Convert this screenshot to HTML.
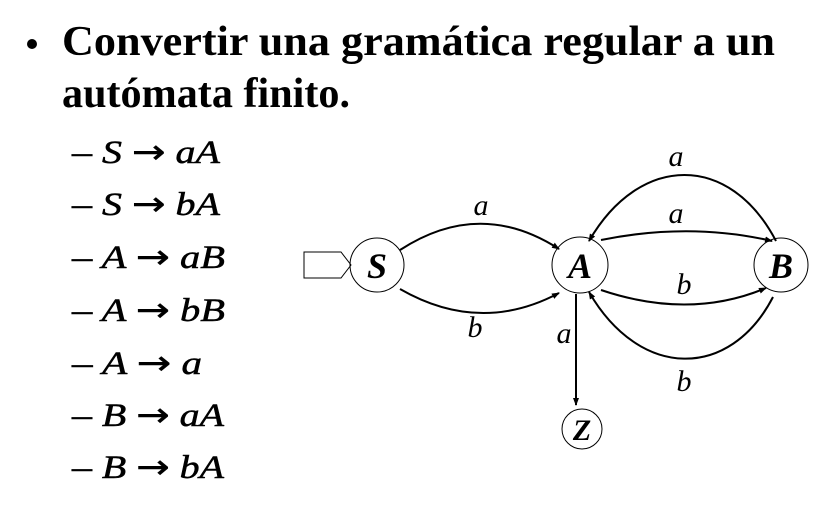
<!DOCTYPE html>
<html><head><meta charset="utf-8"><style>
html,body{margin:0;padding:0;background:#fff;}
svg{display:block;}
text{font-family:"Liberation Serif",serif;fill:#000;}
.arr{font-family:"DejaVu Sans",sans-serif;font-style:normal;font-weight:normal;}
</style></head><body>
<svg width="830" height="516" viewBox="0 0 830 516">
<defs><marker id="ah" markerWidth="8" markerHeight="8" refX="7" refY="4" orient="auto" markerUnits="userSpaceOnUse"><path d="M0,1 L8,4 L0,7 Z" fill="#000"/></marker></defs>
<circle cx="32" cy="44" r="5" fill="#000"/>
<text x="62" y="55" font-size="42" font-weight="bold" textLength="713" lengthAdjust="spacingAndGlyphs">Convertir una gramática regular a un</text>
<text x="62" y="107" font-size="42" font-weight="bold" textLength="288" lengthAdjust="spacingAndGlyphs">autómata finito.</text>
<g font-size="33" font-style="italic" stroke="#000" stroke-width="0.5">
<text x="72" y="163" textLength="148" lengthAdjust="spacingAndGlyphs">– S <tspan class="arr">→</tspan> aA</text>
<text x="72" y="215" textLength="148" lengthAdjust="spacingAndGlyphs">– S <tspan class="arr">→</tspan> bA</text>
<text x="72" y="268" textLength="153" lengthAdjust="spacingAndGlyphs">– A <tspan class="arr">→</tspan> aB</text>
<text x="72" y="321" textLength="153" lengthAdjust="spacingAndGlyphs">– A <tspan class="arr">→</tspan> bB</text>
<text x="72" y="374" textLength="130" lengthAdjust="spacingAndGlyphs">– A <tspan class="arr">→</tspan> a</text>
<text x="72" y="426" textLength="152" lengthAdjust="spacingAndGlyphs">– B <tspan class="arr">→</tspan> aA</text>
<text x="72" y="478" textLength="152" lengthAdjust="spacingAndGlyphs">– B <tspan class="arr">→</tspan> bA</text>
</g>
<g fill="none" stroke="#000">
<path d="M304,252 L341,252 L351,265 L341,278 L304,278 Z" stroke-width="1"/>
<circle cx="377" cy="265" r="27" stroke-width="1"/>
<circle cx="580" cy="265" r="28" stroke-width="1"/>
<circle cx="781" cy="265" r="27" stroke-width="1"/>
<circle cx="582" cy="429" r="20" stroke-width="1"/>
<g stroke-width="2" marker-end="url(#ah)">
<path d="M400,250 Q480,198 559,249"/>
<path d="M400,289 Q480,335 559,293"/>
<path d="M601,240 Q690,222 772,241"/>
<path d="M601,290 Q690,320 766,288"/>
<path d="M776,241 C730,153 640,153 589,241"/>
<path d="M773,297 C730,380 640,380 589,292"/>
<path d="M576,294 L576,405"/>
</g>
</g>
<g font-style="italic" font-weight="bold" text-anchor="middle">
<text x="377" y="278" font-size="36">S</text>
<text x="580" y="278" font-size="36">A</text>
<text x="781" y="278" font-size="36">B</text>
<text x="582" y="440" font-size="30">Z</text>
</g>
<g font-style="italic" font-size="30" text-anchor="middle">
<text x="481" y="215">a</text>
<text x="475" y="337">b</text>
<text x="676" y="166">a</text>
<text x="676" y="223">a</text>
<text x="684" y="294">b</text>
<text x="684" y="391">b</text>
<text x="564" y="343">a</text>
</g>
</svg>
</body></html>
